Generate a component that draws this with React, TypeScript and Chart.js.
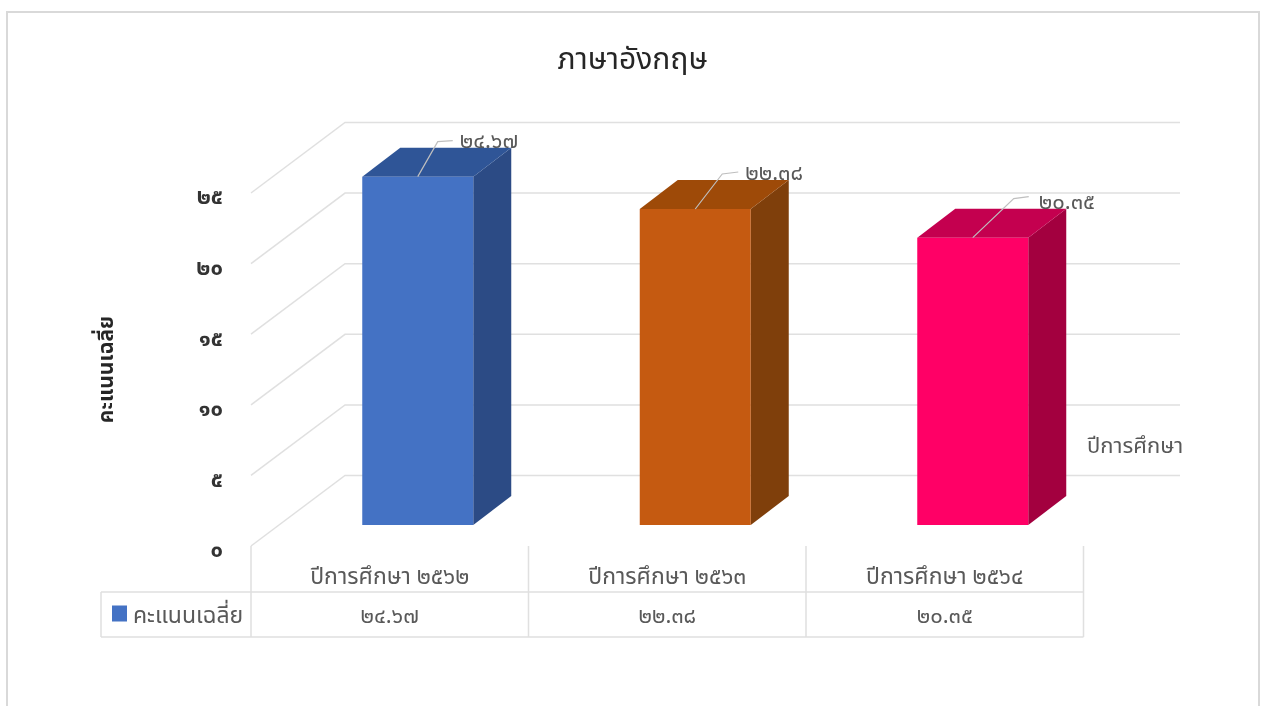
import React, { useEffect, useRef } from "react";
import { Chart, registerables } from "chart.js";

Chart.register(...registerables);

const chartTitle = "ภาษาอังกฤษ";
const yAxisTitle = "คะแนนเฉลี่ย";
const depthAxisTitle = "ปีการศึกษา";
const seriesName = "คะแนนเฉลี่ย";
const categories = ["ปีการศึกษา ๒๕๖๒", "ปีการศึกษา ๒๕๖๓", "ปีการศึกษา ๒๕๖๔"];
const scores = [24.67, 22.38, 20.35];
const yTicks = [0, 5, 10, 15, 20, 25];

const frontColors = ["#4472C4", "#C55A11", "#FF0066"];
const sideColors = ["#2C4B85", "#7F3F0B", "#A3003F"];
const topColors = ["#2F5597", "#9E4A08", "#C4004F"];

const FONT = '"Noto Sans Thai", "Noto Sans Thai UI", Tahoma, "Noto Sans", "DejaVu Sans", sans-serif';
const GRID = "#E0E0E0";
const TEXT = "#595959";

const thaiDigits = "๐๑๒๓๔๕๖๗๘๙";
const toThai = (s: string | number) => String(s).replace(/[0-9]/g, (d) => thaiDigits[Number(d)]);

// Layout of the pseudo-3D box, relative to the scales' front plane
const barShift = { x: 28, y: -21 };
const barDepth = { x: 38, y: -29 };
const wallShift = { x: 94, y: -70.5 };
const wallRight = 1180;
const leaderBends = [
  { a: [20, -35], b: [35, -36], t: [42, -33] },
  { a: [27, -35], b: [43, -37], t: [50, -33] },
  { a: [41, -39], b: [56, -41], t: [66, -33] },
];

const threeD = {
  id: "threeD",
  beforeDraw(chart: any) {
    const { ctx } = chart;
    ctx.save();
    ctx.fillStyle = "#FFFFFF";
    ctx.fillRect(0, 0, chart.width, chart.height);
    ctx.strokeStyle = "#D9D9D9";
    ctx.lineWidth = 2;
    ctx.strokeRect(7, 12, 1252, 720);
    ctx.restore();
  },
  beforeDatasetsDraw(chart: any) {
    const { ctx, scales } = chart;
    const y = scales.y;
    const x = scales.x;
    const left = x.left;
    ctx.save();
    ctx.strokeStyle = GRID;
    ctx.lineWidth = 1.5;
    for (const v of yTicks) {
      const py = y.getPixelForValue(v);
      ctx.beginPath();
      ctx.moveTo(left, py);
      ctx.lineTo(left + wallShift.x, py + wallShift.y);
      ctx.lineTo(wallRight, py + wallShift.y);
      ctx.stroke();
    }
    ctx.restore();

    // Side and top faces of each bar
    const meta = chart.getDatasetMeta(0);
    ctx.save();
    ctx.translate(barShift.x, barShift.y);
    meta.data.forEach((bar: any, i: number) => {
      const { x: cx, y: top, base, width } = bar.getProps(["x", "y", "base", "width"], true);
      const l = cx - width / 2;
      const r = cx + width / 2;
      ctx.fillStyle = sideColors[i];
      ctx.beginPath();
      ctx.moveTo(r, top);
      ctx.lineTo(r + barDepth.x, top + barDepth.y);
      ctx.lineTo(r + barDepth.x, base + barDepth.y);
      ctx.lineTo(r, base);
      ctx.closePath();
      ctx.fill();
      ctx.fillStyle = topColors[i];
      ctx.beginPath();
      ctx.moveTo(l, top);
      ctx.lineTo(l + barDepth.x, top + barDepth.y);
      ctx.lineTo(r + barDepth.x, top + barDepth.y);
      ctx.lineTo(r, top);
      ctx.closePath();
      ctx.fill();
    });
    ctx.restore();

    // The front faces are the library's own bars, moved onto their plane
    ctx.save();
    ctx.translate(barShift.x, barShift.y);
  },
  afterDatasetsDraw(chart: any) {
    const { ctx, scales } = chart;
    ctx.restore();
    const x = scales.x;
    const y = scales.y;
    const meta = chart.getDatasetMeta(0);

    // Leader lines and data labels
    ctx.save();
    ctx.textBaseline = "middle";
    meta.data.forEach((bar: any, i: number) => {
      const px = bar.x + barShift.x;
      const py = bar.y + barShift.y;
      const b = leaderBends[i];
      ctx.strokeStyle = "#BFBFBF";
      ctx.lineWidth = 1.2;
      ctx.beginPath();
      ctx.moveTo(px, py);
      ctx.lineTo(px + b.a[0], py + b.a[1]);
      ctx.lineTo(px + b.b[0], py + b.b[1]);
      ctx.stroke();
      ctx.fillStyle = TEXT;
      ctx.font = `22px ${FONT}`;
      ctx.textAlign = "left";
      ctx.fillText(toThai(scores[i].toFixed(2)), px + b.t[0], py + b.t[1]);
    });

    // Data table
    const zero = y.getPixelForValue(0);
    const rowTop = zero + 46;
    const rowBottom = zero + 91;
    const tableLeft = 101;
    ctx.strokeStyle = GRID;
    ctx.lineWidth = 1.5;
    ctx.beginPath();
    ctx.moveTo(tableLeft, rowTop);
    ctx.lineTo(x.right, rowTop);
    ctx.moveTo(tableLeft, rowBottom);
    ctx.lineTo(x.right, rowBottom);
    ctx.moveTo(tableLeft, rowTop);
    ctx.lineTo(tableLeft, rowBottom);
    const step = (x.right - x.left) / categories.length;
    for (let i = 0; i <= categories.length; i++) {
      ctx.moveTo(x.left + step * i, zero);
      ctx.lineTo(x.left + step * i, rowBottom);
    }
    ctx.stroke();

    const rowMid = (rowTop + rowBottom) / 2;
    ctx.fillStyle = TEXT;
    ctx.textAlign = "center";
    ctx.font = `22px ${FONT}`;
    scores.forEach((v, i) => {
      ctx.fillText(toThai(v.toFixed(2)), x.getPixelForValue(i), rowMid + 4);
    });

    ctx.fillStyle = frontColors[0];
    ctx.fillRect(112, rowMid - 9, 15, 16);
    ctx.fillStyle = TEXT;
    ctx.textAlign = "left";
    ctx.font = `23px ${FONT}`;
    ctx.fillText(seriesName, 133, rowMid + 4);

    // Depth axis title
    ctx.font = `22px ${FONT}`;
    ctx.fillText(depthAxisTitle, 1087, 449);
    ctx.restore();
  },
};

export default function App() {
  const ref = useRef<HTMLCanvasElement>(null);
  useEffect(() => {
    if (!ref.current) return;
    const chart = new Chart(ref.current, {
      type: "bar",
      data: {
        labels: categories,
        datasets: [
          {
            label: seriesName,
            data: scores,
            backgroundColor: frontColors,
            categoryPercentage: 1,
            barPercentage: 0.4,
            clip: false,
          } as any,
        ],
      },
      plugins: [threeD],
      options: {
        responsive: false,
        animation: false,
        plugins: {
          legend: { display: false },
          tooltip: { enabled: false },
          title: {
            display: true,
            text: chartTitle,
            color: "#262626",
            font: { family: FONT, size: 30, weight: "normal", lineHeight: 1.2 },
            padding: { top: 45, bottom: 112 },
          },
        },
        scales: {
          x: {
            type: "category",
            offset: true,
            grid: { display: false, drawTicks: false },
            border: { display: false },
            ticks: {
              color: TEXT,
              padding: 20,
              maxRotation: 0,
              autoSkip: false,
              font: { family: FONT, size: 23 },
            },
            afterFit(scale: any) {
              scale.height = 160;
            },
          },
          y: {
            type: "linear",
            min: 0,
            max: 25,
            grid: { display: false, drawTicks: false },
            border: { display: false },
            ticks: {
              stepSize: 5,
              color: "#333333",
              padding: 28,
              labelOffset: 7,
              font: { family: FONT, size: 22, weight: "bold" },
              callback: (v: any) => toThai(v),
            },
            title: {
              display: true,
              text: yAxisTitle,
              color: "#262626",
              font: { family: FONT, size: 21, weight: "bold" },
              padding: { top: 96, bottom: 0 },
            },
            afterFit(scale: any) {
              scale.width = 251;
            },
          },
          // Empty axis that only reserves the margin on the right of the table
          margin: {
            type: "linear",
            position: "right",
            grid: { display: false, drawTicks: false },
            border: { display: false },
            ticks: { display: false },
            afterFit(scale: any) {
              scale.width = 181.5;
            },
          },
        },
      } as any,
    });
    return () => chart.destroy();
  }, []);
  return (
    <div style={{ position: "absolute", left: 0, top: 0, width: 1265, height: 706, overflow: "hidden" }}>
      <canvas ref={ref} width={1265} height={706} style={{ display: "block" }} />
    </div>
  );
}
